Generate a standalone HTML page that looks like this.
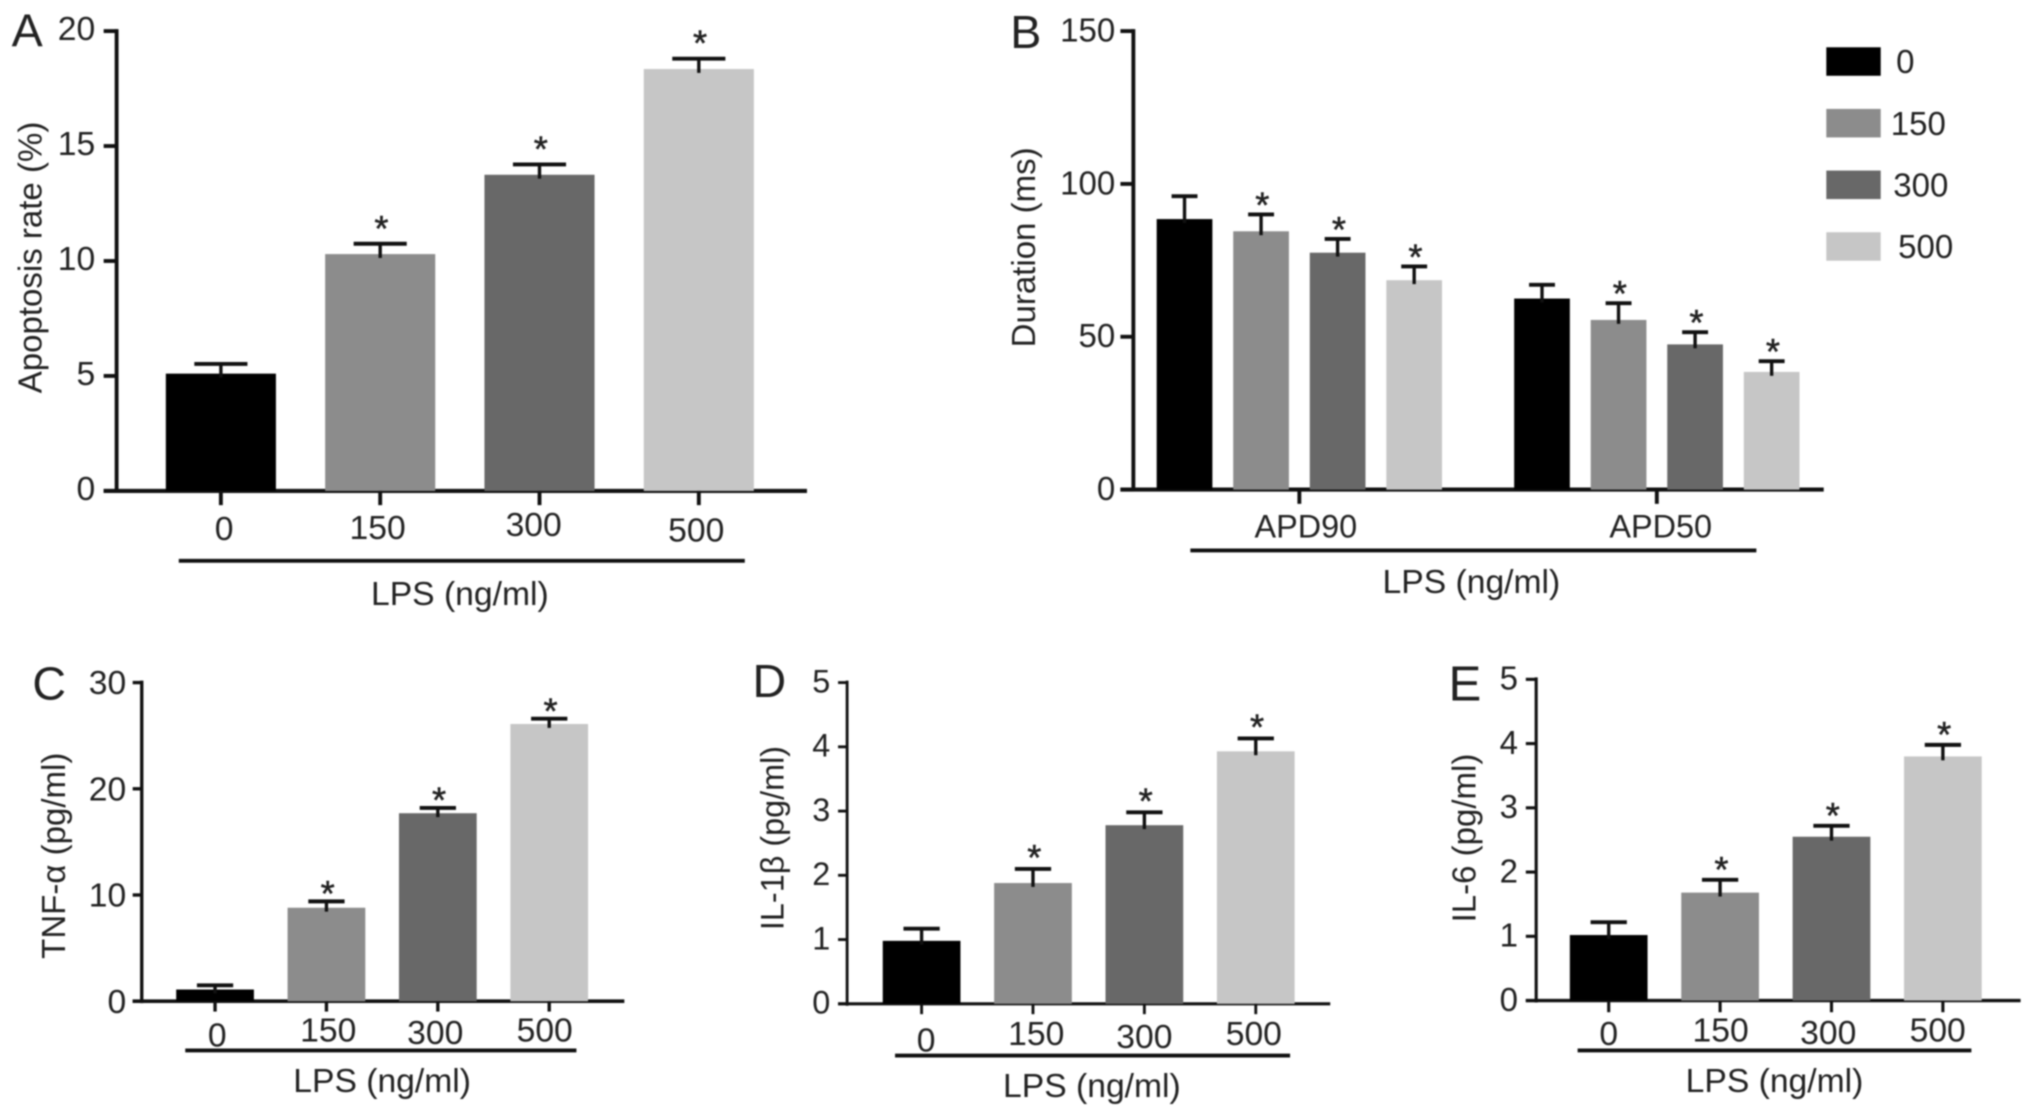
<!DOCTYPE html>
<html lang="en">
<head>
<meta charset="utf-8">
<title>LPS effects on apoptosis, action potential duration and cytokines</title>
<style>
html,body{margin:0;padding:0;background:#fff;width:2031px;height:1117px;overflow:hidden}
svg{display:block;filter:blur(0.9px)}
text{font-family:"Liberation Sans",sans-serif;fill:#222}
</style>
</head>
<body>
<svg id="figure" xmlns="http://www.w3.org/2000/svg" width="2031" height="1117" viewBox="0 0 1568 862.4">
  <rect width="1568" height="863" fill="#fff"/>
  <g id="panel-a"></g>
  <g id="panel-b"></g>
  <g id="panel-c"></g>
  <g id="panel-d"></g>
  <g id="panel-e"></g>
  <g id="legend"></g>
</svg>
<script>
// ---------- data ----------
const doseCategories = ['0', '150', '300', '500'];
const doseSignificant = [false, true, true, true];

const apoptosisTicks = [0, 5, 10, 15, 20];
const apoptosisValues = [5.1, 10.3, 13.75, 18.35];
const apoptosisErrors = [0.42, 0.45, 0.45, 0.45];

const durationTicks = [0, 50, 100, 150];
const durationGroups = ['APD90', 'APD50'];
const apd90Values = [88.5, 84.5, 77.5, 68.5];
const apd90Errors = [7.5, 5.5, 4.5, 4.5];
const apd50Values = [62.5, 55.5, 47.5, 38.5];
const apd50Errors = [4.5, 5.5, 4, 3.5];

const tnfTicks = [0, 10, 20, 30];
const tnfValues = [1.1, 8.8, 17.7, 26.1];
const tnfErrors = [0.4, 0.6, 0.5, 0.5];

const il1Ticks = [0, 1, 2, 3, 4, 5];
const il1Values = [0.98, 1.88, 2.78, 3.93];
const il1Errors = [0.19, 0.22, 0.2, 0.2];

const il6Ticks = [0, 1, 2, 3, 4, 5];
const il6Values = [1.02, 1.68, 2.55, 3.8];
const il6Errors = [0.2, 0.2, 0.17, 0.18];

const doseColors = ['#000000', '#8c8c8c', '#686868', '#c6c6c6'];
const INK = '#111';
const SVG_NS = 'http://www.w3.org/2000/svg';

// ---------- helpers ----------
function shape(tag, attrs, parent) {
  const el = document.createElementNS(SVG_NS, tag);
  for (const k in attrs) el.setAttribute(k, attrs[k]);
  parent.appendChild(el);
  return el;
}
function line(x1, y1, x2, y2, width, parent) {
  return shape('line', { x1: x1, y1: y1, x2: x2, y2: y2, stroke: INK, 'stroke-width': width }, parent);
}
function label(str, x, y, size, anchor, parent, rotate) {
  const attrs = { x: x, y: y, 'font-size': size, 'text-anchor': anchor };
  if (rotate) attrs.transform = 'rotate(-90 ' + x + ' ' + y + ')';
  const el = shape('text', attrs, parent);
  el.textContent = str;
  return el;
}

function drawAxes(g, L, ticks, yScale) {
  const yAxis = line(L.axisX, L.yTop - 1.5, L.axisX, L.y0 + 1.5, L.axisW, g);
  
  
  const xAxis = line(L.axisX - L.tickLen, L.y0, L.axisEnd, L.y0, L.axisW + 0.2, g);
  
  
  ticks.forEach(function (t) {
    const tick = line(L.axisX - L.tickLen, yScale(t), L.axisX, yScale(t), L.axisW, g);
    
    
    const txt = label(String(t), L.axisX - L.labelGap, yScale(t) + 9 + L.yLabelDy, L.tickFont, 'end', g);
    
    
  });
  const letter = label(L.letter, L.letterX, L.letterY, L.letterSize, 'middle', g);
  
  
  const yTitle = label(L.yTitle, L.yTitleX, L.yTitleY, L.yTitleSize, 'middle', g, true);
  
  
  const bracket = line(L.lineX1, L.lineY, L.lineX2, L.lineY, 3, g);
  
  
  const lps = label('LPS (ng/ml)', L.lpsX, L.lpsY, 26, 'middle', g);
  
  
}

function drawBar(g, cx, width, value, error, color, starred, L, yScale) {
  const top = yScale(value);
  const errTop = yScale(value + error);
  const bar = shape('rect', { x: cx - width / 2, y: top, width: width, height: L.y0 - top, fill: color }, g);
  
  
  const stem = line(cx, errTop, cx, top + 3, 2.6, g);
  
  
  const cap = line(cx - L.capWidth / 2, errTop, cx + L.capWidth / 2, errTop, 3, g);
  
  
  if (starred) {
    const star = label('*', cx + 1, errTop - 2.3 + L.starShift, 28, 'middle', g);
    star.setAttribute('stroke', '#222');
    star.setAttribute('stroke-width', '0.4');
    
    
  }
}

function drawDosePanel(id, ticks, values, errors, L) {
  const g = document.getElementById(id);
  const max = ticks[ticks.length - 1];
  const yScale = function (v) { return L.y0 - (v / max) * (L.y0 - L.yTop); };
  const xScale = function (i) { return L.firstCenter + i * L.step; };
  drawAxes(g, L, ticks, yScale);
  doseCategories.forEach(function (cat, i) {
    const cx = xScale(i);
    drawBar(g, cx, L.barWidth, values[i], errors[i], doseColors[i], doseSignificant[i], L, yScale);
    const tick = line(cx, L.y0, cx, L.y0 + L.tickLen + 1, L.axisW, g);
    
    
    const off = L.labelOffset[i];
    const txt = label(cat, cx + off.dx, L.labelY + off.dy, 26, 'middle', g);
    
    
  });
}

function drawDurationPanel() {
  const L = {
    letter: 'B', letterX: 792, letterY: 37, letterSize: 36,
    yTitle: 'Duration (ms)', yTitleX: 799, yTitleY: 191, yTitleSize: 25.5,
    axisX: 875, axisEnd: 1408, axisW: 3, tickLen: 10, labelGap: 14, tickFont: 25.5, yLabelDy: -1,
    yTop: 24, y0: 378, capWidth: 20, starShift: 4.5,
    lineX1: 919, lineX2: 1356, lineY: 425, lpsX: 1136, lpsY: 458
  };
  const g = document.getElementById('panel-b');
  const max = durationTicks[durationTicks.length - 1];
  const yScale = function (v) { return L.y0 - (v / max) * (L.y0 - L.yTop); };
  const groupSeries = [apd90Values, apd50Values];
  const groupErrors = [apd90Errors, apd50Errors];
  const groupStart = [914.5, 1190.5];
  const groupLabelDx = [5, 3];
  const barStep = 59.1;
  drawAxes(g, L, durationTicks, yScale);
  durationGroups.forEach(function (name, gi) {
    groupSeries[gi].forEach(function (v, i) {
      drawBar(g, groupStart[gi] + i * barStep, 43, v, groupErrors[gi][i], doseColors[i], doseSignificant[i], L, yScale);
    });
    const cx = groupStart[gi] + 1.5 * barStep;
    const tick = line(cx, L.y0, cx, L.y0 + L.tickLen + 1, 3, g);
    
    
    const txt = label(name, cx + groupLabelDx[gi], 415, 25, 'middle', g);
    
    
  });
}

function drawLegend() {
  const g = document.getElementById('legend');
  const labelX = [1471, 1481, 1483, 1486.7];
  doseCategories.forEach(function (cat, i) {
    const top = 36.5 + i * 47.6;
    const swatch = shape('rect', { x: 1410, y: top, width: 42, height: 22, fill: doseColors[i] }, g);
    
    
    const txt = label(cat, labelX[i], top + 20, 25.5, 'middle', g);
    
    
  });
}

// ---------- render ----------
drawDosePanel('panel-a', apoptosisTicks, apoptosisValues, apoptosisErrors, {
  letter: 'A', letterX: 21, letterY: 36, letterSize: 36,
  yTitle: 'Apoptosis rate (%)', yTitleX: 32, yTitleY: 198.8, yTitleSize: 25.5,
  axisX: 90, axisEnd: 623, axisW: 3, tickLen: 10, labelGap: 16.5, tickFont: 26, yLabelDy: -2,
  yTop: 24, y0: 379, capWidth: 41, starShift: 0,
  firstCenter: 170.5, step: 123, barWidth: 85,
  labelY: 417, labelOffset: [{dx:2.5,dy:0},{dx:-2,dy:-1},{dx:-4.5,dy:-3},{dx:-2,dy:1}],
  lineX1: 138, lineX2: 575, lineY: 433, lpsX: 355, lpsY: 467
});
drawDurationPanel();
drawDosePanel('panel-c', tnfTicks, tnfValues, tnfErrors, {
  letter: 'C', letterX: 38, letterY: 540, letterSize: 36,
  yTitle: 'TNF-\u03b1 (pg/ml)', yTitleX: 50, yTitleY: 660.7, yTitleSize: 25.5,
  axisX: 109.4, axisEnd: 482, axisW: 2.6, tickLen: 7, labelGap: 12, tickFont: 26, yLabelDy: 0,
  yTop: 527, y0: 773, capWidth: 28, starShift: 6,
  firstCenter: 166, step: 86, barWidth: 60,
  labelY: 805, labelOffset: [{dx:1.7,dy:3},{dx:1.4,dy:-1},{dx:-2,dy:1},{dx:-3.5,dy:-1}],
  lineX1: 143, lineX2: 445, lineY: 811, lpsX: 295, lpsY: 843
});
drawDosePanel('panel-d', il1Ticks, il1Values, il1Errors, {
  letter: 'D', letterX: 594, letterY: 538, letterSize: 36,
  yTitle: 'IL-1\u03b2 (pg/ml)', yTitleX: 605, yTitleY: 647, yTitleSize: 25,
  axisX: 654, axisEnd: 1027, axisW: 2.2, tickLen: 7, labelGap: 13, tickFont: 25, yLabelDy: -1.5,
  yTop: 527, y0: 775, capWidth: 28, starShift: 3,
  firstCenter: 711.5, step: 86, barWidth: 60,
  labelY: 807, labelOffset: [{dx:3.5,dy:5},{dx:2.5,dy:0},{dx:0,dy:2},{dx:-1.5,dy:0}],
  lineX1: 691, lineX2: 996, lineY: 815, lpsX: 843, lpsY: 847
});
drawDosePanel('panel-e', il6Ticks, il6Values, il6Errors, {
  letter: 'E', letterX: 1131, letterY: 541, letterSize: 38,
  yTitle: 'IL-6 (pg/ml)', yTitleX: 1139, yTitleY: 647, yTitleSize: 25.5,
  axisX: 1186, axisEnd: 1560, axisW: 2.4, tickLen: 8, labelGap: 14, tickFont: 25.5, yLabelDy: -1,
  yTop: 524.5, y0: 772.5, capWidth: 28, starShift: 4,
  firstCenter: 1242, step: 86, barWidth: 60,
  labelY: 804, labelOffset: [{dx:0,dy:3},{dx:0.4,dy:0},{dx:-2.5,dy:2},{dx:-4,dy:0}],
  lineX1: 1218, lineX2: 1522, lineY: 811, lpsX: 1370, lpsY: 843
});
drawLegend();
</script>
</body>
</html>
